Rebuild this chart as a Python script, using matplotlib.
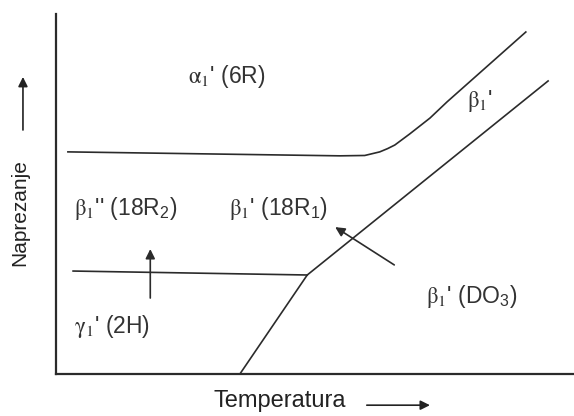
"""
Schematic stress-temperature phase diagram (martensite phases).
"""

import matplotlib
matplotlib.use("Agg")
import matplotlib.pyplot as plt

plt.rcParams["font.family"] = ["Liberation Sans", "DejaVu Sans"]
plt.rcParams["mathtext.fontset"] = "stix"
plt.rcParams["mathtext.default"] = "rm"

# phase boundaries (temperature, stress) in arbitrary units 0..100
upper_T = [2.3, 54.8, 59.6, 62.5, 64.0, 65.4, 68.3, 72.2, 75.5, 90.7]
upper_S = [61.7, 60.6, 60.7, 61.7, 62.6, 63.6, 66.7, 71.1, 75.6, 95.0]

diag_T = [95.0, 48.5, 35.5]
diag_S = [81.4, 27.5, 0.0]

lower_T = [3.3, 48.5]
lower_S = [28.6, 27.5]

# arrows (start -> end)
arrow_starts = [(18.2, 21.1), (65.3, 30.3)]
arrow_ends = [(18.2, 34.7), (53.9, 40.8)]

# phase labels
phase_labels = [
    r"$\alpha_1$' (6R)",
    r"$\beta_1$'",
    r"$\beta_1$'' (18R$\mathregular{_2}$)",
    r"$\beta_1$' (18R$\mathregular{_1}$)",
    r"$\gamma_1$' (2H)",
    r"$\beta_1$' (DO$\mathregular{_3}$)",
]
label_T = [33.0, 81.9, 13.5, 42.9, 10.8, 80.3]
label_S = [82.5, 75.8, 46.1, 46.1, 13.1, 21.4]

line_color = "#2b2b2b"

fig = plt.figure(figsize=(5.74, 4.16), dpi=100)
ax = fig.add_axes([56 / 574, 42 / 416, 518 / 574, 360 / 416])
ax.set_xlim(0, 100)
ax.set_ylim(0, 100)

for side in ["top", "right"]:
    ax.spines[side].set_visible(False)
for side in ["left", "bottom"]:
    ax.spines[side].set_linewidth(1.6)
    ax.spines[side].set_color(line_color)
ax.set_xticks([])
ax.set_yticks([])

ax.plot(upper_T, upper_S, color=line_color, lw=1.2)
ax.plot(diag_T, diag_S, color=line_color, lw=1.2)
ax.plot(lower_T, lower_S, color=line_color, lw=1.2)

for start, end in zip(arrow_starts, arrow_ends):
    ax.annotate("", xy=end, xytext=start,
                arrowprops=dict(arrowstyle="-|>", color=line_color, lw=1.2,
                                mutation_scale=14, shrinkA=0, shrinkB=0))

for text, t, s in zip(phase_labels, label_T, label_S):
    ax.text(t, s, text, ha="center", va="center", fontsize=16.5, color="#333333")

# axis labels with arrows
fig.text(0.035, 0.49, "Naprezanje", rotation=90, ha="center", va="center",
         fontsize=15, color="#222222")
fig.text(0.488, 0.036, "Temperatura", ha="center", va="center",
         fontsize=17, color="#222222")
ax.annotate("", xy=(0.040, 0.815), xytext=(0.040, 0.6875), xycoords="figure fraction",
            arrowprops=dict(arrowstyle="-|>", color="#222222", lw=1.2,
                            mutation_scale=14, shrinkA=0, shrinkB=0))
ax.annotate("", xy=(0.749, 0.026), xytext=(0.639, 0.026), xycoords="figure fraction",
            arrowprops=dict(arrowstyle="-|>", color="#222222", lw=1.2,
                            mutation_scale=14, shrinkA=0, shrinkB=0))

fig.savefig("out.png", dpi=100)
